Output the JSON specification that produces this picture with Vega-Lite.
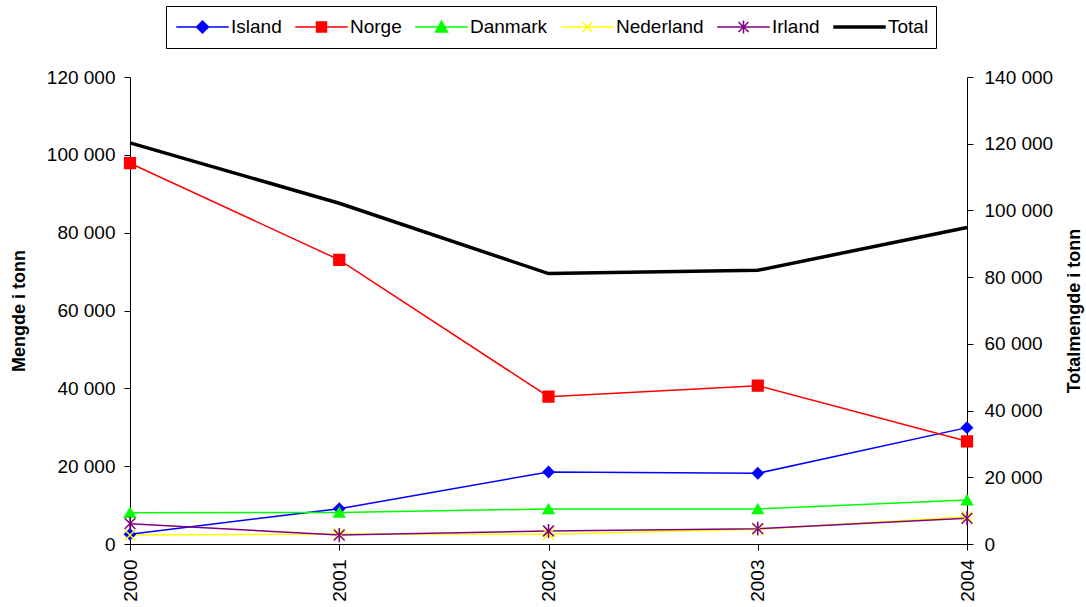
{
  "$schema": "https://vega.github.io/schema/vega-lite/v6.json",
  "autosize": "none",
  "width": 837,
  "height": 467,
  "padding": {"left": 130, "top": 77, "right": 119, "bottom": 63},
  "background": "white",
  "config": {
    "font": "Liberation Sans",
    "view": {"stroke": null},
    "axis": {"grid": false, "domainColor": "black", "tickColor": "black", "labelColor": "black", "titleColor": "black", "labelFont": "Liberation Sans", "titleFont": "Liberation Sans", "labelFontSize": 19, "titleFontSize": 18, "titleFontWeight": "bold", "tickSize": 6, "domainWidth": 1, "tickWidth": 1}
  },
  "data": {"values": [
    {"year": 2000, "series": "Island", "value": 2490},
    {"year": 2001, "series": "Island", "value": 9080},
    {"year": 2002, "series": "Island", "value": 18500},
    {"year": 2003, "series": "Island", "value": 18170},
    {"year": 2004, "series": "Island", "value": 29900},
    {"year": 2000, "series": "Norge", "value": 97850},
    {"year": 2001, "series": "Norge", "value": 73000},
    {"year": 2002, "series": "Norge", "value": 37860},
    {"year": 2003, "series": "Norge", "value": 40690},
    {"year": 2004, "series": "Norge", "value": 26390},
    {"year": 2000, "series": "Danmark", "value": 8050},
    {"year": 2001, "series": "Danmark", "value": 8100},
    {"year": 2002, "series": "Danmark", "value": 9000},
    {"year": 2003, "series": "Danmark", "value": 9000},
    {"year": 2004, "series": "Danmark", "value": 11300},
    {"year": 2000, "series": "Nederland", "value": 2300},
    {"year": 2001, "series": "Nederland", "value": 2570},
    {"year": 2002, "series": "Nederland", "value": 2500},
    {"year": 2003, "series": "Nederland", "value": 3800},
    {"year": 2004, "series": "Nederland", "value": 7000},
    {"year": 2000, "series": "Irland", "value": 5220},
    {"year": 2001, "series": "Irland", "value": 2300},
    {"year": 2002, "series": "Irland", "value": 3340},
    {"year": 2003, "series": "Irland", "value": 3950},
    {"year": 2004, "series": "Irland", "value": 6600},
    {"year": 2000, "series": "Total", "value": 120240},
    {"year": 2001, "series": "Total", "value": 102150},
    {"year": 2002, "series": "Total", "value": 81060},
    {"year": 2003, "series": "Total", "value": 82050},
    {"year": 2004, "series": "Total", "value": 94860}
  ]},
  "encoding": {
    "x": {"field": "year", "type": "quantitative", "scale": {"domain": [2000, 2004], "nice": false, "zero": false},
      "axis": {"title": null, "values": [2000, 2001, 2002, 2003, 2004], "format": "d", "labelAngle": 270, "labelPadding": 9, "labelFlush": false, "labelOverlap": false}}
  },
  "layer": [
    {
      "transform": [{"filter": "datum.series !== 'Total'"}],
      "encoding": {
        "y": {"field": "value", "type": "quantitative", "scale": {"domain": [0, 120000], "nice": false},
          "axis": {"title": "Mengde i tonn", "values": [0, 20000, 40000, 60000, 80000, 100000, 120000], "labelExpr": "replace(format(datum.value, ','), regexp(',', 'g'), ' ')", "labelPadding": 9, "titlePadding": 18}}
      },
      "layer": [
        {
          "mark": {"type": "line", "strokeWidth": 1.5},
          "encoding": {
            "color": {"field": "series", "type": "nominal",
              "scale": {"domain": ["Island", "Norge", "Danmark", "Nederland", "Irland", "Total"], "range": ["#0000FF", "#FF0000", "#00FF00", "#FFFF00", "#800080", "#000000"]},
              "legend": {"title": null, "orient": "none", "legendX": 36, "legendY": -71, "direction": "horizontal", "columns": 6,
                "strokeColor": "black", "padding": 7, "clipHeight": 28, "columnPadding": 10, "labelFont": "Liberation Sans", "labelFontSize": 19, "labelColor": "black",
                "symbolSize": 100, "symbolStrokeWidth": 1.5, "symbolOffset": 20, "labelOffset": 19,
                "encode": {"symbols": {"update": {
                  "shape": {"signal": "datum.value === 'Island' ? 'M-5.25,0H5.25M0,-1.2L1.2,0L0,1.2L-1.2,0Z' : datum.value === 'Norge' ? 'M-5.25,0H5.25M-1,-1H1V1H-1Z' : datum.value === 'Danmark' ? 'M-5.25,0H5.25M0,-1.2L1.2,1H-1.2Z' : datum.value === 'Nederland' ? 'M-5.25,0H5.25M-1,-1L1,1M-1,1L1,-1' : datum.value === 'Irland' ? 'M-5.25,0H5.25M-1,-1L1,1M-1,1L1,-1M0,-1.3V1.3' : 'M-5.25,0H5.25'"},
                  "stroke": {"signal": "scale('color', datum.value)"},
                  "fill": {"signal": "scale('color', datum.value)"},
                  "strokeWidth": {"signal": "datum.value === 'Total' ? 3.5 : 1.5"},
                  "opacity": {"value": 1}
                }}}}
            }
          }
        },
        {
          "mark": {"type": "point", "filled": true, "strokeWidth": 1.5, "opacity": 1, "size": 115},
          "encoding": {
            "fill": {"field": "series", "type": "nominal", "legend": null,
              "scale": {"domain": ["Island", "Norge", "Danmark", "Nederland", "Irland"], "range": ["#0000FF", "#FF0000", "#00FF00", "#FFFF00", "#800080"]}},
            "stroke": {"field": "series", "type": "nominal", "legend": null,
              "scale": {"domain": ["Island", "Norge", "Danmark", "Nederland", "Irland"], "range": ["#0000FF", "#FF0000", "#00FF00", "#FFFF00", "#800080"]}},
            "shape": {"field": "series", "type": "nominal", "legend": null,
              "scale": {"domain": ["Island", "Norge", "Danmark", "Nederland", "Irland"], "range": ["diamond", "square", "triangle-up", "M-1,-1L1,1M-1,1L1,-1", "M-1,-1L1,1M-1,1L1,-1M0,-1.3L0,1.3"]}}
          }
        }
      ]
    },
    {
      "transform": [{"filter": "datum.series === 'Total'"}],
      "mark": {"type": "line", "strokeWidth": 3.5},
      "encoding": {
        "y": {"field": "value", "type": "quantitative", "scale": {"domain": [0, 140000], "nice": false},
          "axis": {"orient": "right", "title": "Totalmengde i tonn", "titleAngle": 270, "titleBaseline": "top", "values": [0, 20000, 40000, 60000, 80000, 100000, 120000, 140000], "labelExpr": "replace(format(datum.value, ','), regexp(',', 'g'), ' ')", "labelPadding": 11, "titlePadding": 13}},
        "color": {"field": "series", "type": "nominal"}
      }
    }
  ],
  "resolve": {"scale": {"y": "independent"}}
}
